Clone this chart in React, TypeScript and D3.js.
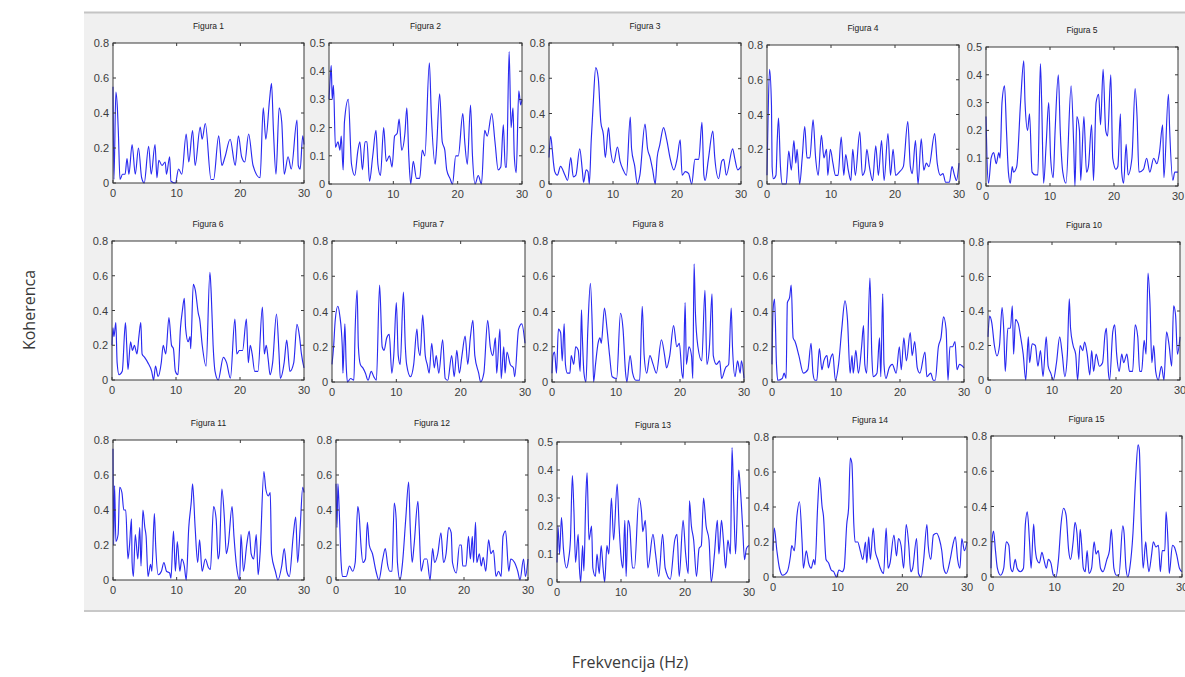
import React from 'react';
import * as d3 from 'd3';

// coherence curves, [Hz, coherence] at peaks and troughs
const fig1 = [[0,0.55],[0.15,0.02],[0.45,0.52],[0.7,0.42],[0.85,0.28],[1.1,0.02],[1.5,0.05],[1.9,0.05],[2.2,0.14],[2.5,0.05],[3,0.22],[3.5,0.05],[4,0.2],[4.5,0.03],[4.9,0],[5.6,0.21],[6,0.05],[6.6,0.22],[6.9,0.03],[7.2,0.13],[7.7,0.1],[8.2,0.12],[8.4,0.05],[8.9,0.15],[9.1,0.01],[9.8,0],[10.3,0.08],[10.8,0.05],[11.5,0.28],[11.9,0.12],[12.5,0.3],[12.9,0.1],[13.7,0.32],[14,0.25],[14.5,0.34],[15.4,0.02],[15.8,0.02],[16.6,0.27],[17.1,0.1],[17.6,0.15],[18.4,0.25],[19.2,0.1],[19.7,0.27],[20.2,0.15],[20.7,0.12],[21.3,0.28],[22,0.1],[23.1,0.03],[23.6,0.43],[24,0.25],[24.6,0.48],[24.9,0.57],[25.2,0.3],[25.6,0.05],[26.1,0.43],[26.5,0.35],[26.9,0.05],[27.5,0.15],[28,0.08],[28.9,0.36],[29.1,0.1],[29.4,0.08],[29.8,0.27],[30,0.22]];
const fig2 = [[0,0.3],[0.2,0.38],[0.35,0.42],[0.5,0.3],[0.7,0.35],[1,0.13],[1.4,0.15],[1.7,0.12],[1.9,0.17],[2.2,0.05],[2.4,0.22],[3,0.3],[3.5,0.07],[4,0.03],[4.5,0.12],[4.8,0.15],[5.2,0.05],[5.6,0.15],[5.9,0.15],[6.3,0.01],[6.8,0.1],[7.3,0.19],[7.6,0.07],[8,0.03],[8.5,0.2],[8.9,0.08],[9.4,0.1],[9.8,0.06],[10.2,0.17],[10.6,0.18],[10.9,0.23],[11.3,0.12],[11.8,0.18],[12.1,0.27],[12.4,0.1],[12.7,0],[13.1,0.08],[13.6,0.02],[14.1,0.02],[14.5,0.12],[14.9,0.1],[15.6,0.43],[15.9,0.25],[16.5,0.07],[16.7,0.12],[17.2,0.32],[17.6,0.15],[18,0.12],[18.3,0.05],[18.8,0.02],[19.2,0],[19.7,0.1],[20.1,0.1],[20.8,0.25],[21.1,0.15],[21.5,0.07],[22,0.28],[22.3,0.1],[22.7,0],[23.2,0.03],[23.7,0],[24.2,0.19],[24.6,0.17],[25.3,0.25],[25.8,0.15],[26.3,0.05],[26.7,0.06],[27.1,0.21],[27.4,0.06],[27.6,0.06],[28,0.47],[28.3,0.2],[28.6,0.27],[28.8,0.1],[29.1,0.04],[29.5,0.33],[29.8,0.28],[30,0.3]];
const fig3 = [[0,0.15],[0.26,0.27],[0.5,0.2],[0.7,0.12],[0.9,0.07],[1.3,0.05],[1.8,0.1],[2.5,0.05],[2.9,0.02],[3.4,0.15],[3.8,0.04],[4.2,0.05],[4.8,0.2],[5.2,0.08],[5.4,0.01],[5.8,0.08],[6.1,0.07],[6.3,0],[6.6,0.25],[6.9,0.45],[7.3,0.66],[7.7,0.6],[8.1,0.35],[8.5,0.28],[8.8,0.15],[9.3,0.32],[9.6,0.2],[10.1,0.12],[10.7,0.21],[11.1,0.13],[11.6,0.08],[12.1,0.05],[12.7,0.38],[12.9,0.2],[13.4,0.1],[13.8,0],[14.2,0.05],[15,0.34],[15.4,0.2],[15.8,0.15],[16.2,0.08],[16.6,0],[16.9,0.15],[17.3,0.22],[17.9,0.32],[18.4,0.25],[18.9,0.15],[19.5,0.08],[20,0.14],[20.5,0.25],[20.8,0.05],[21.3,0.07],[21.8,0.06],[22.3,0],[22.8,0.14],[23.4,0.14],[23.9,0.35],[24.2,0.05],[24.4,0.02],[24.9,0.14],[25.6,0.3],[25.9,0.15],[26.5,0.03],[27,0.13],[27.3,0.14],[27.7,0.05],[28.7,0.2],[29,0.15],[29.5,0.08],[30,0.1]];
const fig4 = [[0,0.05],[0.15,0.35],[0.4,0.66],[0.7,0.45],[0.8,0.1],[1,0.03],[1.4,0.05],[1.6,0.25],[1.8,0.38],[2.1,0.1],[2.4,0],[3,0],[3.4,0.19],[3.8,0.08],[4.2,0.25],[4.5,0.12],[4.7,0.2],[5.1,0],[5.5,0.15],[5.9,0.33],[6.25,0.15],[6.7,0.15],[7.2,0.37],[7.6,0.15],[8,0.05],[8.5,0.28],[8.9,0.15],[9.3,0.2],[9.5,0.05],[9.9,0.2],[10.3,0.12],[10.7,0.05],[11.1,0.05],[11.6,0.27],[12,0.05],[12.3,0.17],[12.7,0.08],[13.1,0.02],[13.4,0.2],[13.8,0.05],[14.5,0.3],[14.9,0.05],[15.3,0.08],[15.6,0.2],[16,0.1],[16.5,0.02],[17,0.22],[17.4,0.05],[17.9,0.25],[18.3,0.02],[18.9,0.29],[19.3,0.05],[19.7,0.2],[20.1,0.05],[20.7,0.07],[21.3,0.1],[22,0.36],[22.4,0.1],[22.7,0.06],[23.2,0.25],[23.6,0],[24.1,0.26],[24.5,0.08],[24.9,0.12],[25.3,0.1],[26.2,0.29],[26.6,0.12],[27.1,0.05],[27.5,0.06],[27.9,0.01],[28.5,0.01],[28.9,0.1],[29.3,0.05],[29.6,0.02],[30,0.12]];
const fig5 = [[0,0.25],[0.15,0.1],[0.4,0.01],[0.8,0.1],[1.2,0.12],[1.6,0.08],[2,0.12],[2.2,0.1],[2.5,0.3],[2.9,0.36],[3.2,0.2],[3.5,0.05],[3.8,0.01],[4.1,0.07],[4.3,0.05],[4.8,0.07],[5.4,0.3],[5.9,0.45],[6.1,0.3],[6.5,0.2],[6.8,0.26],[7.2,0.05],[7.7,0.04],[8.1,0.04],[8.5,0.44],[8.7,0.3],[9,0.01],[9.4,0.15],[9.8,0.3],[10.1,0.1],[10.5,0.03],[10.8,0.2],[11.3,0.4],[11.6,0.2],[12,0.05],[12.5,0.01],[13.3,0.36],[13.7,0.15],[13.9,0],[14.2,0.25],[14.6,0.2],[14.8,0.02],[15.3,0.25],[15.7,0.05],[16,0.07],[16.5,0.22],[16.8,0.02],[17.2,0.3],[17.6,0.33],[17.9,0.22],[18.3,0.42],[18.7,0.2],[19,0.18],[19.5,0.4],[19.8,0.1],[20.3,0.06],[20.6,0.07],[21,0.26],[21.2,0.05],[21.5,0.01],[21.9,0.15],[22.2,0.04],[22.8,0.1],[23.3,0.35],[23.6,0.25],[23.9,0.05],[24.6,0.06],[25.1,0.1],[25.6,0.05],[26.2,0.1],[26.7,0.08],[27.1,0.12],[27.6,0.22],[27.8,0.03],[28.5,0.33],[28.7,0.2],[29.2,0.02],[29.5,0.05],[30,0.05]];
const fig6 = [[0,0.2],[0.15,0.3],[0.3,0.25],[0.6,0.33],[0.8,0.1],[1.1,0.03],[1.6,0.05],[2.1,0.33],[2.3,0.2],[2.5,0.06],[2.9,0.22],[3.2,0.17],[3.5,0.2],[3.9,0.15],[4.2,0.25],[4.5,0.33],[4.7,0.15],[5.1,0.13],[5.6,0.1],[6.2,0.05],[6.5,0],[6.8,0.08],[7.2,0.02],[7.7,0.1],[8,0.2],[8.4,0.15],[8.9,0.36],[9.3,0.2],[9.6,0.18],[9.9,0.05],[10.3,0.03],[10.7,0.3],[11,0.4],[11.3,0.47],[11.5,0.3],[11.9,0.22],[12.2,0.25],[12.3,0.18],[12.7,0.55],[13,0.52],[13.5,0.38],[13.7,0.35],[14.1,0.2],[14.7,0.08],[15.3,0.62],[15.5,0.5],[15.8,0.2],[16.1,0.05],[16.6,0],[17.4,0.13],[17.9,0.1],[18.5,0.01],[19.2,0.35],[19.5,0.15],[19.9,0.17],[20.4,0.17],[21,0.35],[21.3,0.1],[21.6,0.2],[21.9,0.15],[22.3,0.05],[22.8,0.05],[23.5,0.42],[23.8,0.15],[24.1,0.2],[24.4,0.12],[24.7,0.03],[25.1,0.1],[25.7,0.38],[26.1,0.15],[26.3,0.01],[26.9,0.1],[27.3,0.23],[27.8,0.05],[28.4,0.1],[28.9,0.32],[29.3,0.25],[29.6,0.15],[30,0.07]];
const fig7 = [[0,0.1],[0.25,0.2],[0.5,0.35],[0.9,0.43],[1.2,0.38],[1.6,0.2],[1.7,0.05],[2,0.33],[2.2,0.1],[2.4,0],[2.9,0.02],[3.4,0.01],[3.6,0.3],[3.9,0.52],[4.1,0.2],[4.4,0.1],[4.8,0.08],[5.2,0.05],[5.6,0.01],[6.1,0.06],[6.5,0.03],[6.9,0.01],[7.4,0.55],[7.8,0.2],[8.1,0.18],[8.5,0.25],[8.9,0.27],[9.3,0.05],[9.6,0.15],[10,0.45],[10.3,0.15],[10.6,0.1],[11.1,0.51],[11.4,0.2],[11.6,0.1],[12.2,0.03],[12.7,0.1],[13.2,0.3],[13.4,0.2],[13.7,0.15],[14.1,0.38],[14.5,0.15],[14.8,0.1],[15.1,0.05],[15.5,0.22],[15.9,0.08],[16.2,0.15],[16.6,0.05],[17.2,0.24],[17.6,0.02],[18,0.01],[18.6,0.15],[19,0.03],[19.4,0.18],[19.8,0.05],[20.2,0.15],[20.7,0.26],[21.1,0.1],[21.5,0.25],[21.9,0.35],[22.2,0.15],[22.8,0.05],[23.1,0],[23.6,0.05],[24.2,0.35],[24.6,0.2],[25,0.15],[25.4,0.25],[25.6,0.05],[26.1,0.3],[26.3,0.02],[26.7,0.2],[26.9,0.05],[27.2,0.17],[27.7,0.1],[28.2,0.08],[28.4,0.03],[29,0.3],[29.5,0.33],[30,0.22]];
const fig8 = [[0,0.05],[0.15,0.15],[0.4,0.17],[0.7,0.05],[1,0.3],[1.35,0.28],[1.6,0.12],[1.9,0.33],[2.1,0.1],[2.4,0.05],[2.8,0.05],[3,0.15],[3.4,0.1],[3.7,0.2],[4.1,0.18],[4.4,0.06],[4.6,0.41],[4.7,0.3],[5,0.05],[5.3,0],[5.6,0.3],[6,0.56],[6.3,0.3],[6.5,0],[6.8,0.1],[7.2,0.22],[7.5,0.25],[7.7,0.22],[8.2,0.42],[8.6,0.3],[9,0.15],[9.4,0.03],[10.1,0.02],[10.7,0.39],[11.1,0.3],[11.5,0.05],[11.7,0],[12.2,0.15],[12.6,0.05],[13.1,0.01],[13.7,0.01],[14.1,0.43],[14.4,0.15],[14.8,0.05],[15.3,0.15],[15.8,0.1],[16.3,0.05],[17.1,0.24],[17.6,0.15],[17.9,0.08],[18.4,0.15],[19,0.32],[19.5,0.2],[19.9,0.22],[20.3,0.05],[20.5,0.02],[20.8,0.45],[21,0.1],[21.4,0.2],[21.8,0.15],[22,0.02],[22.2,0.67],[22.4,0.4],[22.8,0.2],[23.4,0.12],[23.9,0.52],[24.2,0.1],[24.6,0.2],[25,0.5],[25.2,0.15],[25.7,0.1],[26.2,0.12],[26.5,0.02],[27.1,0.08],[27.6,0.1],[28,0.42],[28.2,0.2],[28.6,0.03],[29,0.12],[29.4,0.05],[29.6,0.12],[30,0.02]];
const fig9 = [[0,0.1],[0.15,0.4],[0.4,0.47],[0.7,0.1],[0.9,0.01],[1.6,0.02],[1.9,0.05],[2.2,0.02],[2.4,0.45],[2.75,0.48],[3,0.55],[3.3,0.25],[3.6,0.23],[4.2,0.15],[4.9,0.05],[5.6,0.07],[6.1,0.22],[6.4,0.05],[6.7,0.01],[7,0.01],[7.4,0.19],[7.8,0.07],[8.1,0.12],[8.6,0.15],[8.8,0.08],[9.2,0.14],[9.5,0.16],[9.9,0.01],[10.4,0.1],[10.9,0.3],[11.4,0.46],[11.8,0.35],[12.2,0.05],[12.5,0.15],[12.7,0.05],[13.1,0.18],[13.5,0.05],[14,0.2],[14.3,0.32],[14.5,0.1],[14.8,0.05],[15.3,0.59],[15.6,0.15],[15.8,0.03],[16.4,0.05],[16.8,0.25],[17,0.03],[17.3,0.5],[17.5,0.1],[17.8,0.02],[18.3,0.08],[18.8,0.1],[19.4,0.05],[19.9,0.2],[20.2,0.07],[20.6,0.25],[21,0.12],[21.6,0.28],[21.9,0.15],[22.3,0.23],[22.7,0.08],[23.1,0.05],[23.9,0.17],[24.2,0.03],[24.8,0.05],[25.2,0.01],[25.5,0.01],[26,0.2],[26.4,0.25],[26.8,0.37],[27.2,0.3],[27.5,0.01],[27.8,0.2],[28.2,0.2],[28.6,0.23],[28.9,0.07],[29.3,0.1],[30,0.08]];
const fig10 = [[0,0.25],[0.25,0.37],[0.6,0.33],[1,0.2],[1.4,0.14],[1.8,0.2],[2.2,0.42],[2.45,0.3],[2.7,0.05],[3.1,0.3],[3.5,0.3],[3.8,0.43],[4,0.15],[4.3,0.35],[4.7,0.33],[5.1,0.25],[5.5,0.15],[5.9,0],[6.3,0.25],[6.5,0.1],[6.9,0.21],[7.4,0.2],[7.8,0.08],[8.2,0.17],[8.6,0.02],[9.1,0.25],[9.4,0.08],[9.8,0.04],[10.2,0],[10.7,0.1],[11.2,0.25],[11.6,0.15],[12,0.02],[12.4,0.15],[12.7,0.47],[12.9,0.3],[13.3,0.2],[13.7,0.15],[14,0],[14.4,0.2],[14.8,0.17],[15.1,0.22],[15.5,0.15],[15.9,0.03],[16.2,0.17],[16.5,0.05],[16.9,0.15],[17.4,0.08],[17.9,0.1],[18.3,0.27],[18.5,0.3],[18.8,0.05],[19,0],[19.5,0.28],[19.8,0.32],[20.1,0.15],[20.5,0.05],[20.9,0.15],[21.2,0.1],[21.7,0.15],[22.1,0.05],[22.6,0.05],[23,0.32],[23.4,0.25],[23.7,0.05],[24,0.05],[24.4,0.23],[24.7,0.15],[25,0.62],[25.3,0.45],[25.6,0.1],[25.9,0.2],[26.2,0.05],[26.6,0],[27.1,0.08],[27.5,0],[27.9,0.28],[28.3,0.2],[28.7,0.08],[29,0.43],[29.3,0.38],[29.6,0.15],[30,0.25]];
const fig11 = [[0,0.75],[0.1,0.2],[0.25,0.54],[0.45,0.22],[0.8,0.26],[1.05,0.53],[1.4,0.5],[1.7,0.4],[2,0.4],[2.35,0.12],[2.6,0.2],[2.9,0.35],[3,0.1],[3.2,0.02],[3.5,0.26],[3.9,0.12],[4.2,0.3],[4.4,0.08],[4.7,0.4],[5,0.3],[5.2,0.25],[5.5,0.02],[5.9,0.09],[6.1,0.05],[6.5,0.38],[6.7,0.2],[7.1,0.03],[7.6,0.05],[8,0.1],[8.4,0.05],[8.9,0.04],[9.1,0.01],[9.5,0.28],[9.8,0.05],[10.1,0.22],[10.5,0.05],[10.8,0.12],[11.2,0.08],[11.5,0],[11.9,0.3],[12.3,0.45],[12.5,0.55],[12.9,0.3],[13.3,0.1],[13.6,0.23],[14,0.05],[14.5,0.12],[15,0.07],[15.3,0.06],[15.8,0.42],[16.2,0.35],[16.5,0.12],[16.7,0.15],[17.1,0.52],[17.5,0.35],[17.8,0.15],[18.1,0.2],[18.7,0.42],[19,0.25],[19.4,0.08],[19.9,0],[20.1,0.26],[20.5,0.05],[21,0.2],[21.4,0.28],[21.7,0.15],[22.1,0.12],[22.5,0.26],[22.8,0.03],[23.1,0.15],[23.7,0.62],[24,0.52],[24.4,0.48],[24.7,0.5],[24.9,0.15],[25.5,0.05],[25.9,0],[26.5,0.08],[26.9,0.18],[27.3,0.05],[27.7,0.02],[28.3,0.25],[28.7,0.36],[29,0.1],[29.4,0.3],[29.8,0.53],[30,0.5]];
const fig12 = [[0,0.55],[0.15,0.3],[0.3,0.55],[0.5,0.4],[0.8,0.1],[1,0.02],[1.6,0.02],[2.1,0.08],[2.6,0.05],[3,0.1],[3.4,0.42],[3.6,0.38],[3.9,0.2],[4.2,0.1],[4.6,0.12],[4.9,0.33],[5.2,0.2],[5.7,0.15],[6.25,0.05],[6.7,0],[7.3,0.12],[7.7,0.18],[8.1,0.08],[8.4,0.05],[8.75,0.05],[9.1,0.44],[9.4,0.35],[9.6,0.1],[10,0],[10.4,0.1],[10.9,0.35],[11.35,0.56],[11.6,0.3],[11.9,0.1],[12.2,0.2],[12.8,0.45],[13,0.3],[13.3,0.05],[13.8,0.12],[14.2,0.12],[14.7,0],[15.1,0.18],[15.4,0.1],[15.9,0.15],[16.4,0.27],[16.8,0.1],[17.2,0.15],[17.6,0.3],[18,0.27],[18.2,0.1],[18.8,0.04],[19.3,0.2],[19.6,0.2],[19.8,0.08],[20.3,0.08],[20.7,0.25],[21,0.12],[21.3,0.25],[21.5,0.1],[21.8,0.33],[22,0.1],[22.4,0.15],[22.7,0.08],[23,0.13],[23.4,0.05],[23.85,0.23],[24.2,0.15],[24.6,0.17],[25,0.02],[25.4,0.05],[25.8,0.02],[26.1,0.25],[26.5,0.28],[27,0.05],[27.3,0.12],[27.9,0.1],[28.4,0.05],[28.75,0],[29.3,0.12],[29.6,0.02],[30,0.12]];
const fig13 = [[0,0.07],[0.15,0.2],[0.4,0.1],[0.7,0.23],[1,0.12],[1.5,0.05],[1.8,0.08],[2.1,0.15],[2.4,0.38],[2.65,0.25],[2.9,0.07],[3.3,0.17],[3.5,0.05],[3.7,0],[4,0.13],[4.2,0.04],[4.5,0.3],[4.7,0.39],[5,0.15],[5.4,0.2],[5.6,0.05],[6,0.02],[6.25,0.1],[6.6,0.03],[6.9,0.13],[7.2,0.05],[7.45,0],[7.8,0.13],[8.1,0.1],[8.5,0.3],[8.85,0.15],[9.4,0.35],[9.7,0.2],[10.05,0.08],[10.3,0.05],[10.6,0.22],[10.8,0.02],[11.1,0.22],[11.35,0.2],[11.8,0.05],[12.1,0.05],[12.8,0.3],[13.2,0.25],[13.4,0.18],[13.8,0.22],[14.2,0.05],[15,0.17],[15.4,0.1],[15.9,0.02],[16.5,0.17],[16.9,0.05],[17.7,0.01],[18.4,0.15],[18.75,0.17],[19.1,0.02],[19.7,0.22],[20.1,0.1],[20.5,0.03],[20.7,0.29],[21,0.2],[21.35,0.15],[21.8,0.02],[22.2,0.12],[22.55,0.13],[22.9,0.3],[23.3,0.2],[23.75,0.15],[24.1,0],[24.6,0.1],[25.05,0.22],[25.3,0.1],[25.7,0.22],[26,0.15],[26.35,0.05],[26.7,0.15],[27.1,0.1],[27.35,0.48],[27.6,0.3],[27.9,0.1],[28.4,0.4],[28.6,0.35],[29,0.2],[29.3,0.08],[29.6,0.12],[30,0.13]];
const fig14 = [[0,0.15],[0.2,0.28],[0.6,0.15],[1,0.05],[1.5,0.01],[2.2,0.03],[2.7,0.12],[2.9,0.18],[3.3,0.15],[3.7,0.35],[4.1,0.43],[4.5,0.2],[4.7,0.05],[5.15,0.15],[5.5,0.08],[5.9,0.05],[6.3,0.1],[6.5,0.07],[6.9,0.4],[7.2,0.57],[7.6,0.4],[7.8,0.35],[8.2,0.1],[8.6,0.08],[9,0.04],[9.4,0.03],[9.8,0],[10.2,0.04],[10.7,0.03],[11,0.05],[11.4,0.3],[11.7,0.4],[11.95,0.68],[12.2,0.65],[12.5,0.3],[12.7,0.2],[13.1,0.2],[13.5,0.15],[13.9,0.1],[14.3,0.2],[14.5,0.08],[14.8,0.23],[15.05,0.1],[15.5,0.28],[15.8,0.15],[16.2,0.1],[16.6,0.05],[17.1,0.02],[17.5,0.28],[17.8,0.05],[18.1,0.08],[18.7,0.24],[19.1,0.12],[19.4,0.22],[19.8,0.18],[20.2,0.05],[20.6,0.3],[21,0.18],[21.3,0.03],[21.6,0.05],[22.2,0.22],[22.5,0.02],[22.9,0],[23.3,0.1],[23.8,0.3],[24,0.18],[24.4,0.1],[24.8,0.24],[25.3,0.25],[25.7,0.22],[26.1,0.15],[26.4,0.05],[26.8,0.02],[27.4,0.1],[27.8,0.18],[28.2,0.23],[28.55,0.1],[28.9,0.05],[29.2,0.22],[29.6,0.15],[30,0.2]];
const fig15 = [[0,0.05],[0.15,0.2],[0.4,0.26],[0.7,0.15],[1,0.05],[1.5,0.01],[2,0.05],[2.4,0.2],[2.8,0.18],[3.1,0.05],[3.4,0.03],[3.8,0.1],[4.1,0.05],[4.6,0.03],[5.1,0.05],[5.4,0.3],[5.7,0.37],[6.05,0.2],[6.3,0.05],[6.7,0.3],[6.9,0.18],[7.2,0.1],[7.6,0.08],[8,0.14],[8.3,0.1],[8.7,0.05],[9,0.1],[9.4,0.08],[9.8,0.01],[10.2,0],[10.6,0.1],[11,0.3],[11.4,0.39],[11.8,0.35],[12.2,0.15],[12.5,0.1],[12.9,0.2],[13.2,0.31],[13.5,0.25],[13.8,0.1],[14,0.27],[14.2,0.2],[14.5,0.05],[14.8,0.03],[15.1,0.15],[15.4,0.02],[15.8,0.05],[16.2,0.2],[16.5,0.13],[16.85,0.15],[17.2,0.05],[17.6,0.03],[18.2,0.1],[18.6,0.15],[18.9,0.27],[19.3,0.05],[19.7,0.01],[20.1,0.01],[20.7,0.29],[20.9,0.25],[21.2,0.05],[21.5,0],[21.8,0.05],[22.3,0.25],[22.7,0.55],[23.1,0.75],[23.3,0.72],[23.6,0.3],[23.9,0.05],[24.3,0.2],[24.5,0.12],[24.8,0.03],[25.2,0.12],[25.5,0.2],[25.9,0.17],[26.3,0.18],[26.6,0.03],[26.9,0.15],[27.3,0.15],[27.5,0.37],[27.8,0.2],[28,0.02],[28.5,0.18],[28.8,0.17],[29.2,0.12],[29.6,0.05],[30,0.03]];

const series = [fig1, fig2, fig3, fig4, fig5, fig6, fig7, fig8, fig9, fig10, fig11, fig12, fig13, fig14, fig15];
const titles = series.map((_, i) => `Figura ${i + 1}`);
// upper limit of each y axis
const yMaxes = [0.8, 0.5, 0.8, 0.8, 0.5, 0.8, 0.8, 0.8, 0.8, 0.8, 0.8, 0.8, 0.5, 0.8, 0.8];
const xTicks = [0, 10, 20, 30];
const yTicks08 = [0, 0.2, 0.4, 0.6, 0.8];
const yTicks05 = [0, 0.1, 0.2, 0.3, 0.4, 0.5];

// axes boxes [left, top, width, height] as placed in the screenshot
const boxes = [
  [113, 43, 191, 140], [329, 43, 193, 141], [549, 43, 192, 141], [767, 45, 192, 139], [986, 47, 192, 139],
  [112, 241, 192, 139], [332, 241, 193, 141], [552, 241, 192, 141], [772, 241, 192, 141], [988, 242, 192, 138],
  [113, 440, 191, 140], [336, 440, 192, 140], [557, 442, 192, 140], [773, 437, 194, 140], [991, 436, 191, 141],
];

const fmt = (v: number) => (v === 0 ? '0' : String(+v.toFixed(1)));
const tickFont = 'Liberation Sans, Arial, sans-serif';

const Subplot = ({ idx }: { idx: number }) => {
  const [left, top, w, h] = boxes[idx];
  const yMax = yMaxes[idx];
  const x = d3.scaleLinear().domain([0, 30]).range([left, left + w]);
  const y = d3.scaleLinear().domain([0, yMax]).range([top + h, top]);
  const yTicks = yMax === 0.5 ? yTicks05 : yTicks08;
  const line = d3.line<number[]>().x(d => x(d[0])).y(d => y(d[1])).curve(d3.curveMonotoneX);
  const tl = 3;

  return (
    <g>
      <rect x={left} y={top} width={w} height={h} fill="#fff" />
      <path d={line(series[idx]) || ''} fill="none" stroke="#2a2af0" strokeWidth={1.15} strokeLinejoin="round" />
      <rect x={left} y={top} width={w} height={h} fill="none" stroke="#3a3a3a" strokeWidth={1} />
      {xTicks.map(t => (
        <g key={'x' + t}>
          <line x1={x(t)} x2={x(t)} y1={top + h} y2={top + h - tl} stroke="#3a3a3a" />
          <line x1={x(t)} x2={x(t)} y1={top} y2={top + tl} stroke="#3a3a3a" />
          <text x={x(t)} y={top + h + 14} textAnchor="middle" fontSize={11} fill="#3c3c3c" fontFamily={tickFont}>{t}</text>
        </g>
      ))}
      {yTicks.map(t => (
        <g key={'y' + t}>
          <line x1={left} x2={left + tl} y1={y(t)} y2={y(t)} stroke="#3a3a3a" />
          <line x1={left + w} x2={left + w - tl} y1={y(t)} y2={y(t)} stroke="#3a3a3a" />
          <text x={left - 4} y={y(t) + 4} textAnchor="end" fontSize={11} fill="#3c3c3c" fontFamily={tickFont}>{fmt(t)}</text>
        </g>
      ))}
      <text x={left + w / 2} y={top - 14} textAnchor="middle" fontSize={8.5} fill="#222" fontFamily={tickFont}>{titles[idx]}</text>
    </g>
  );
};

export default function App() {
  return (
    <svg width={1185} height={677} style={{ position: 'absolute', left: 0, top: 0, background: '#fff' }}>
      <rect x={84} y={12} width={1101} height={599} fill="#f0f0f0" />
      <line x1={84} x2={1185} y1={12.5} y2={12.5} stroke="#c4c4c4" strokeWidth={2} />
      <line x1={84} x2={1185} y1={611} y2={611} stroke="#c8c8c8" strokeWidth={2} />
      {series.map((_, i) => <Subplot key={i} idx={i} />)}
      <text transform="translate(35,310) rotate(-90)" textAnchor="middle" fontSize={16} fill="#3a3a3a" fontFamily="Open Sans, Noto Sans, sans-serif">Koherenca</text>
      <text x={630} y={668} textAnchor="middle" fontSize={16} fill="#3a3a3a" fontFamily="Open Sans, Noto Sans, sans-serif">Frekvencija (Hz)</text>
    </svg>
  );
}
